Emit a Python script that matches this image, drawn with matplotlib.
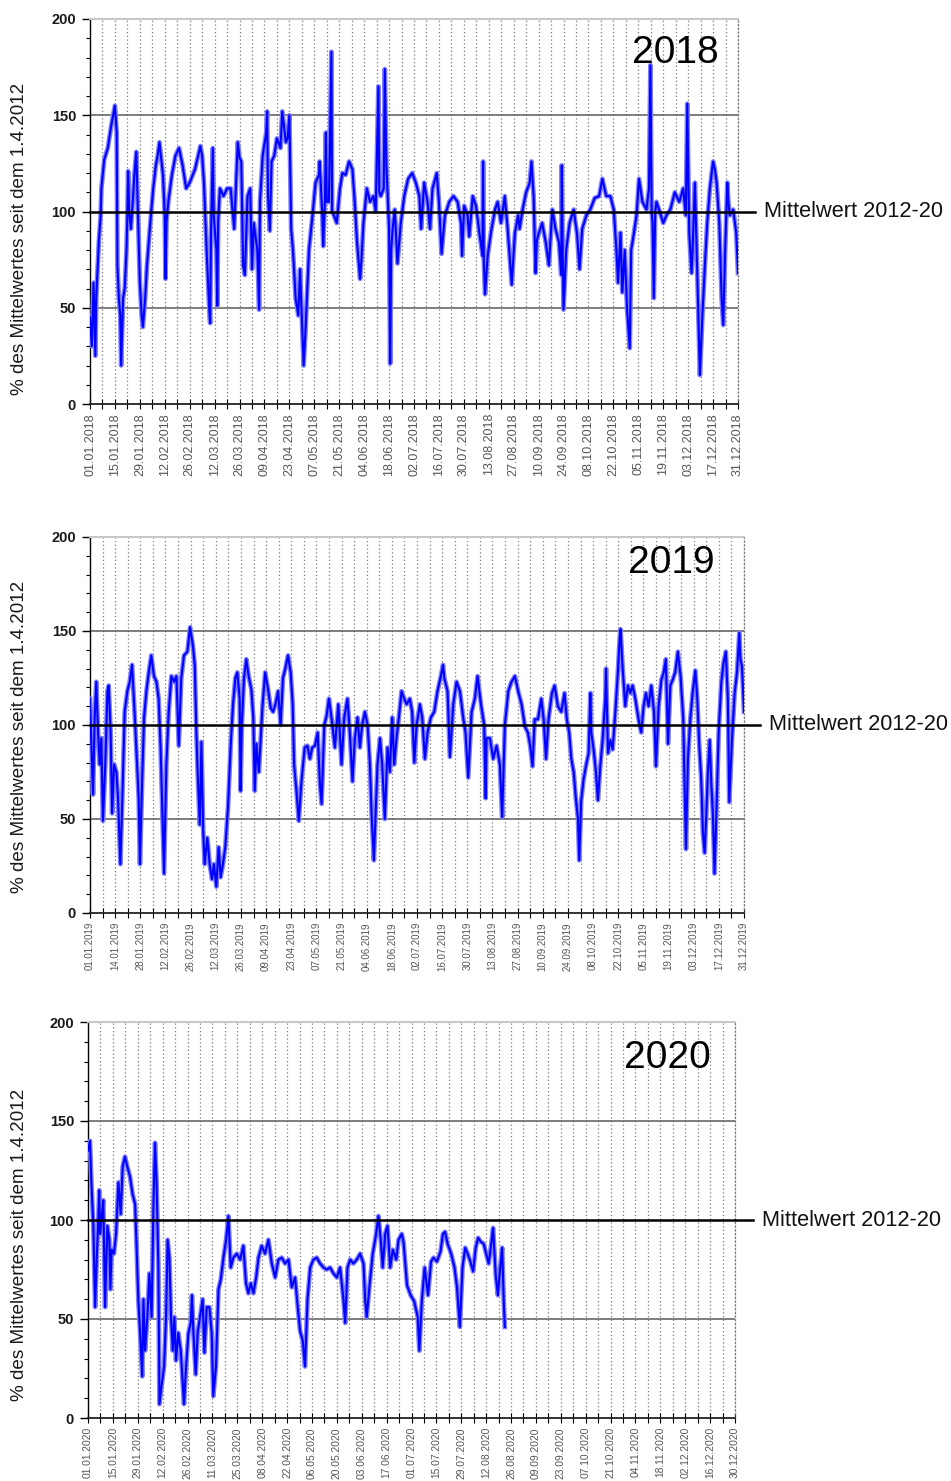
import matplotlib
matplotlib.use("Agg")
import matplotlib.pyplot as plt
from matplotlib.ticker import MultipleLocator, FixedLocator

plt.rcParams['font.family'] = ['Liberation Sans', 'DejaVu Sans']

# ---------------- data ----------------
days_2018 = [0, 1, 2, 3, 3.5, 5, 6, 6.4, 8, 10, 12, 13, 14, 15, 15.4, 16.2, 17, 17.5, 18.6, 19.5,
             20.5, 21, 21.4, 22, 23, 24, 25, 26, 27, 28, 29, 29.7, 31, 32, 33.6, 35.5, 37, 38, 39, 41,
             42, 42.4, 43, 44, 46, 48, 50, 52, 54, 56, 59, 62, 63, 64, 65.5, 67, 67.5, 68, 69, 69.5,
             71, 71.5, 72, 73, 75, 77, 79, 81, 83, 84, 85, 86, 87, 88.5, 90, 91, 92, 94, 95, 95.5,
             97, 99, 99.5, 100, 101, 102, 103.5, 105, 107, 108, 110, 111, 112, 113, 114, 115.5, 117, 118, 119, 120,
             121, 123, 125, 126.7, 128.6, 129, 130.5, 131, 132, 132.5, 133, 134.2, 135.6, 136, 137, 138.6, 140.4, 141.8, 143.6, 145.5,
             147.4, 148.7, 150, 151.7, 152.5, 153.6, 155.5, 157.3, 159.2, 160.5, 162, 162.5, 163.3, 165, 165.6, 166.5, 168, 168.6, 169.2, 170,
             171.2, 172.7, 174.6, 176.5, 178.7, 181, 183, 185, 186, 187.7, 189.6, 191, 192.4, 194.8, 196, 197.5, 198.5, 199.4, 201.8, 204.2,
             206.5, 208.4, 209, 210.2, 212.1, 213, 215, 216.8, 218.7, 220.5, 220.8, 221.2, 221.9, 223.4, 225.2, 227.5, 229, 230.9, 233, 234.6,
             236.9, 238.7, 240.5, 241.3, 243, 245, 247, 248, 249.2, 250.3, 251, 252.2, 254, 256, 257.8, 259.7, 261.5, 263.4, 264.7, 265,
             265.5, 266, 267.5, 269.4, 271.7, 273.5, 275, 276.5, 278.8, 281, 283.5, 286, 287.8, 290, 292.3, 294.2, 295.7, 296.6, 298, 299,
             300.4, 301.7, 303.2, 304, 305.4, 307, 308.4, 310.3, 312.6, 314, 314.8, 315.5, 316, 316.7, 317.5, 318.2, 320, 322, 323.8, 326,
             328.5, 331, 333.2, 334.7, 335.5, 336.6, 337.9, 338.5, 339.8, 340.5, 341.7, 342.6, 344, 345.4, 346.7, 348.2, 350, 351, 352, 353.5,
             354.8, 355.7, 356.8, 358, 358.6, 359.4, 361.3, 363, 364]
vals_2018 = [45, 30, 63, 25, 55, 85, 98, 112, 127, 133, 145, 150, 155, 141, 72, 55, 46, 20, 55, 60,
             80, 98, 121, 100, 91, 105, 120, 131, 98, 63, 46, 40, 55, 72, 91, 112, 124, 129, 136, 119,
             98, 65, 95, 105, 119, 129, 133, 124, 112, 115, 122, 134, 129, 115, 80, 49, 42, 89, 133, 98,
             80, 51, 95, 112, 108, 112, 112, 91, 136, 128, 126, 72, 67, 108, 112, 70, 94, 80, 49, 105,
             129, 141, 152, 108, 90, 126, 129, 138, 133, 152, 136, 138, 150, 91, 80, 55, 46, 70, 45, 20,
             37, 80, 98, 115, 119, 126, 98, 82, 107, 141, 105, 105, 183, 100, 98, 94, 112, 120, 119, 126,
             122, 105, 84, 65, 75, 94, 112, 105, 108, 100, 165, 110, 108, 112, 174, 124, 91, 21, 80, 91,
             101, 73, 94, 108, 117, 120, 115, 108, 91, 115, 105, 91, 112, 120, 105, 78, 89, 98, 105, 108,
             105, 94, 77, 103, 98, 87, 108, 103, 89, 77, 126, 75, 57, 77, 89, 101, 105, 94, 108, 91,
             62, 89, 98, 91, 101, 110, 115, 126, 108, 68, 85, 89, 94, 84, 72, 101, 91, 84, 67, 124,
             80, 49, 80, 94, 101, 89, 70, 91, 98, 101, 107, 108, 117, 108, 108, 101, 80, 63, 89, 58,
             80, 49, 29, 80, 88, 98, 117, 105, 101, 112, 176, 100, 94, 55, 100, 105, 100, 94, 98, 101,
             110, 105, 112, 98, 156, 89, 68, 80, 115, 90, 46, 15, 46, 72, 94, 112, 126, 122, 115, 94,
             55, 41, 80, 115, 105, 98, 101, 89, 68]

days_2019 = [0, 0.8, 1.7, 2.6, 3.5, 4.5, 5.4, 6.3, 7.2, 8.5, 9.7, 10.4, 11.5, 12.3, 13.4, 14.7, 15.6, 16.9, 18, 19.3,
             20.8, 22.1, 23.4, 24.9, 26.2, 27.1, 27.8, 29, 30.1, 31.4, 32.7, 34.1, 35.6, 37, 38.2, 39.3, 40.5, 41.2, 42.5, 43.8,
             45.3, 46.8, 48.1, 49.4, 50, 50.8, 52.3, 54.2, 55.7, 57.3, 58.3, 59.2, 60.1, 61.1, 62, 63, 63.8, 65.3, 66.6, 67.9,
             69, 70.3, 71.6, 72.7, 74, 75.3, 76.8, 78.3, 79.6, 80.9, 82, 83.3, 83.8, 84.5, 85.7, 87, 88.3, 89.8, 90.9, 91.7,
             92.6, 94, 96, 97.5, 99.1, 100.6, 101.9, 103.2, 104.7, 106.1, 107.4, 108.7, 110.2, 111.7, 112.8, 113.6, 114.9, 116.2, 117.7, 119.5,
             121, 122.4, 123.7, 125.2, 126.7, 128, 128.9, 130.4, 131.7, 133, 134.4, 136.3, 138.2, 140, 141.5, 143.3, 144.6, 146.1, 147.4, 148.9,
             150.2, 151.5, 153, 154.5, 155.8, 156.7, 158, 159, 160, 161.4, 162.6, 164.1, 165.6, 166.9, 168.2, 169.3, 170.6, 171.9, 173.4, 174.9,
             176.2, 178, 179.3, 180.5, 181.8, 183.6, 184.9, 186.4, 187.9, 189.7, 191.6, 193.4, 195.3, 196.5, 197.2, 199, 200.3, 202.2, 204, 205.9,
             207.7, 209, 210.5, 212.4, 214.2, 215.7, 217.6, 219.4, 220.2, 220.7, 222.6, 224.4, 226.3, 228.1, 229.4, 230.9, 232.8, 234.6, 236.5, 238.3,
             240.2, 242.1, 243.7, 245, 246.3, 247.5, 249.3, 251.2, 252.5, 253.8, 255.2, 257.1, 258.6, 260.4, 262.3, 264.1, 265.4, 266.7, 267.9, 269.2,
             270.5, 271.6, 272.3, 273.4, 274.7, 276, 277.5, 278.5, 279, 280.3, 281.6, 282.7, 284, 285.3, 286.8, 287.2, 288.3, 289.6, 290.9, 292.4,
             293.8, 294.8, 295.3, 296.4, 297.9, 299.4, 300.7, 302, 303.5, 305.3, 306.8, 308.1, 309.4, 310.9, 312.4, 313.9, 315, 316.5, 318, 319.3,
             320.5, 321.7, 323, 324.3, 325.7, 327.2, 328.7, 330.2, 330.9, 331.7, 332.8, 334.1, 335.4, 336.9, 338, 339.1, 340.2, 341.1, 342.1, 343,
             343.9, 344.9, 345.8, 346.7, 347.6, 348.6, 349.9, 351.4, 352.6, 353.9, 355, 355.8, 357.3, 358.8, 360.1, 361.4, 362, 362.9, 364]
vals_2019 = [114, 88, 63, 104, 123, 96, 79, 93, 49, 79, 118, 121, 96, 53, 79, 75, 61, 26, 61, 107,
             118, 123, 132, 105, 79, 61, 26, 70, 104, 118, 128, 137, 126, 123, 114, 88, 47, 21, 79, 107,
             126, 123, 126, 89, 105, 125, 137, 139, 152, 142, 132, 96, 70, 47, 91, 44, 26, 40, 26, 18,
             26, 14, 35, 19, 26, 35, 56, 89, 111, 125, 128, 114, 65, 100, 125, 135, 126, 119, 104, 65,
             90, 75, 110, 128, 119, 109, 107, 111, 118, 100, 125, 130, 137, 128, 111, 79, 65, 49, 70, 88,
             89, 82, 88, 89, 96, 68, 58, 100, 105, 114, 104, 88, 111, 79, 104, 114, 96, 70, 93, 104,
             88, 100, 107, 100, 79, 53, 28, 53, 79, 93, 79, 50, 88, 75, 104, 79, 93, 104, 118, 114,
             111, 114, 107, 80, 100, 111, 104, 82, 96, 104, 107, 118, 126, 132, 125, 118, 83, 111, 123, 118,
             104, 96, 72, 107, 114, 126, 111, 100, 61, 93, 93, 82, 89, 79, 51, 100, 118, 123, 126, 118,
             111, 99, 96, 89, 78, 103, 103, 114, 103, 82, 103, 117, 121, 110, 107, 117, 103, 96, 82, 75,
             60, 50, 28, 60, 71, 78, 85, 117, 96, 87, 75, 60, 78, 92, 114, 130, 85, 92, 87, 107,
             128, 146, 151, 131, 110, 121, 117, 121, 114, 103, 96, 110, 117, 110, 121, 107, 78, 110, 124, 128,
             135, 90, 121, 124, 128, 139, 126, 103, 69, 34, 82, 103, 117, 129, 114, 89, 71, 43, 32, 52,
             75, 92, 69, 52, 21, 52, 96, 123, 133, 139, 114, 59, 92, 117, 128, 149, 135, 131, 107]

days_2020 = [0, 1.1, 2, 3, 4, 4.9, 5.8, 6.3, 6.8, 7.7, 8.6, 9.6, 10.2, 10.9, 12, 12.6, 13.3, 14.6, 15.8, 17.1,
             18.4, 19.5, 20.8, 22.1, 23.6, 25.1, 26.5, 27.4, 28.3, 29.3, 30.5, 31.2, 32.1, 33.4, 34.5, 35.8, 36.8, 37.7, 38.6, 39.6,
             40.2, 41.5, 42.8, 43.9, 44.8, 45.8, 46.7, 47.7, 48.6, 49.5, 50.8, 52.2, 53.3, 54, 55.2, 56.5, 57.8, 58.5, 59.3, 60.6,
             61.7, 63, 64.5, 65.5, 66.8, 68.3, 69.6, 70.5, 72, 73.4, 74.7, 76.2, 77.7, 79, 80.3, 81.8, 83.7, 85.6, 87.4, 88.9,
             90.2, 91.6, 93.1, 94.6, 95.9, 97.7, 99.6, 101.5, 103.4, 105.3, 107.1, 109, 110.9, 112.8, 114.6, 116.5, 118, 119.3, 120.8, 122.1,
             123.5, 125, 126.8, 128.7, 130.6, 132.5, 134.3, 136.2, 138.1, 140, 141.8, 143.7, 144.7, 146, 147.5, 149.3, 151.2, 153.1, 155, 155.9,
             156.8, 158.3, 160.2, 162.1, 163.4, 164.7, 165.8, 167.2, 168.5, 170, 171.5, 173.4, 174.7, 176.5, 177.5, 179.5, 181.5, 183.5, 185.5, 186.4,
             187.8, 189.4, 191.3, 193, 194.4, 196.3, 198.3, 199.7, 200.9, 202.3, 204.3, 206.2, 207.6, 209.2, 210.7, 212.2, 213.6, 215.1, 216.7, 218.1,
             219.5, 221, 222.6, 224, 225.4, 226.6, 227.9, 229.4, 230.6, 231.9, 233, 233.9, 234.5]
vals_2020 = [135, 140, 117, 97, 56, 80, 100, 115, 93, 102, 110, 56, 76, 97, 90, 65, 85, 83, 93, 119,
             103, 127, 132, 127, 122, 113, 108, 85, 60, 43, 21, 60, 34, 51, 73, 51, 107, 139, 119, 76,
             7, 17, 26, 51, 90, 81, 51, 34, 51, 29, 43, 34, 17, 7, 26, 43, 48, 62, 43, 22,
             43, 51, 60, 33, 56, 56, 43, 11, 26, 65, 70, 81, 90, 102, 76, 81, 83, 80, 87, 68,
             63, 68, 63, 71, 81, 87, 83, 90, 78, 71, 80, 81, 78, 80, 66, 71, 56, 44, 39, 26,
             60, 76, 80, 81, 78, 76, 75, 76, 73, 71, 76, 60, 48, 76, 80, 78, 80, 83, 78, 60,
             51, 66, 83, 93, 102, 90, 76, 93, 97, 76, 85, 80, 90, 93, 89, 67, 62, 59, 51, 34,
             59, 76, 62, 79, 81, 79, 84, 93, 94, 88, 83, 76, 66, 46, 76, 86, 83, 79, 74, 86,
             91, 89, 88, 83, 78, 86, 96, 72, 62, 76, 86, 59, 46]

labels_2018 = ["01.01.2018", "15.01.2018", "29.01.2018", "12.02.2018", "26.02.2018", "12.03.2018",
               "26.03.2018", "09.04.2018", "23.04.2018", "07.05.2018", "21.05.2018", "04.06.2018",
               "18.06.2018", "02.07.2018", "16.07.2018", "30.07.2018", "13.08.2018", "27.08.2018",
               "10.09.2018", "24.09.2018", "08.10.2018", "22.10.2018", "05.11.2018", "19.11.2018",
               "03.12.2018", "17.12.2018", "31.12.2018"]
labels_2019 = ["01.01.2019", "14.01.2019", "28.01.2019", "12.02.2019", "26.02.2019", "12.03.2019",
               "26.03.2019", "09.04.2019", "23.04.2019", "07.05.2019", "21.05.2019", "04.06.2019",
               "18.06.2019", "02.07.2019", "16.07.2019", "30.07.2019", "13.08.2019", "27.08.2019",
               "10.09.2019", "24.09.2019", "08.10.2019", "22.10.2019", "05.11.2019", "19.11.2019",
               "03.12.2019", "17.12.2019", "31.12.2019"]
labels_2020 = ["01.01.2020", "15.01.2020", "29.01.2020", "12.02.2020", "26.02.2020", "11.03.2020",
               "25.03.2020", "08.04.2020", "22.04.2020", "06.05.2020", "20.05.2020", "03.06.2020",
               "17.06.2020", "01.07.2020", "15.07.2020", "29.07.2020", "12.08.2020", "26.08.2020",
               "09.09.2020", "23.09.2020", "07.10.2020", "21.10.2020", "04.11.2020", "18.11.2020",
               "02.12.2020", "16.12.2020", "30.12.2020"]

y_ticks = [0, 50, 100, 150, 200]
mean_value = 100
mean_label = "Mittelwert 2012-20"
y_label = "% des Mittelwertes seit dem 1.4.2012"

# ---------------- layout ----------------
W, H = 951, 1481
fig = plt.figure(figsize=(W / 100, H / 100), dpi=100)

panels = [
    dict(days=days_2018, vals=vals_2018, labels=labels_2018, year="2018",
         rect=(90, 19, 738, 404), xfs=9.0, mean_end=755, text_x=764, year_xy=(675, 53), ylab_c=239),
    dict(days=days_2019, vals=vals_2019, labels=labels_2019, year="2019",
         rect=(90, 537, 744, 913), xfs=7.0, mean_end=760, text_x=769, year_xy=(671, 563), ylab_c=737),
    dict(days=days_2020, vals=vals_2020, labels=labels_2020, year="2020",
         rect=(88, 1022, 735, 1418), xfs=7.4, mean_end=753, text_x=762, year_xy=(667, 1058), ylab_c=1245),
]

XMAX = 364
for p in panels:
    l, t, r, b = p['rect']
    ax = fig.add_axes([l / W, 1 - b / H, (r - l) / W, (b - t) / H])
    ax.set_xlim(0, XMAX)
    ax.set_ylim(0, 200)

    # weekly dotted grid
    for d in range(7, XMAX + 1, 7):
        ax.axvline(d, color='#7a7a7a', lw=0.9, ls=(0, (1, 2)), zorder=1)
    for yv in (50, 150):
        ax.axhline(yv, color='#5a5a5a', lw=1.1, zorder=2)

    # series: light band + core line
    ax.plot(p['days'], p['vals'], color='#7f7fff', lw=3.4, zorder=3)
    ax.plot(p['days'], p['vals'], color='#0000ff', lw=1.5, zorder=4)

    # mean line extending past the axes
    x_end = (p['mean_end'] - l) / (r - l) * XMAX
    ax.plot([0, x_end], [mean_value, mean_value], color='black', lw=1.8, zorder=5, clip_on=False)
    ax.text((p['text_x'] - l) / (r - l), mean_value, mean_label, transform=ax.get_yaxis_transform(),
            ha='left', va='center', fontsize=15.7, color='#111111')

    # year label
    yx, yy = p['year_xy']
    ax.text((yx - l) / (r - l), 1 - (yy - t) / (b - t), p['year'], transform=ax.transAxes,
            ha='center', va='center', fontsize=28, color='black', zorder=6)

    # spines
    ax.spines['left'].set_color('black')
    ax.spines['left'].set_linewidth(1.0)
    ax.spines['bottom'].set_color('#222222')
    ax.spines['bottom'].set_linewidth(1.3)
    ax.spines['top'].set_color('#c8c8c8')
    ax.spines['top'].set_linewidth(1.5)
    ax.spines['right'].set_color('#7a7a7a')
    ax.spines['right'].set_linewidth(0.9)
    ax.spines['right'].set_linestyle((0, (1, 2)))

    # y ticks
    ax.yaxis.set_major_locator(FixedLocator(y_ticks))
    ax.yaxis.set_minor_locator(MultipleLocator(10))
    ax.tick_params(axis='y', which='major', length=6, width=1.0, direction='out', pad=4,
                   labelsize=10.5, labelcolor='#1a1a1a')
    ax.tick_params(axis='y', which='minor', length=3, width=0.8, direction='out')
    for lab in ax.get_yticklabels():
        lab.set_fontweight('bold')

    # x ticks
    major = list(range(0, XMAX + 1, 14))
    minor = list(range(7, XMAX + 1, 14))
    ax.xaxis.set_major_locator(FixedLocator(major))
    ax.xaxis.set_minor_locator(FixedLocator(minor))
    ax.set_xticklabels(p['labels'], rotation=90, fontsize=p['xfs'], color='#555555')
    ax.tick_params(axis='x', which='both', direction='inout', length=7, width=0.8, pad=3)

    # y label
    fig.text(20 / W, 1 - p['ylab_c'] / H, y_label, rotation=90, ha='center', va='center',
             fontsize=13.6, color='#1a1a1a')

fig.savefig("out.png", dpi=100)
